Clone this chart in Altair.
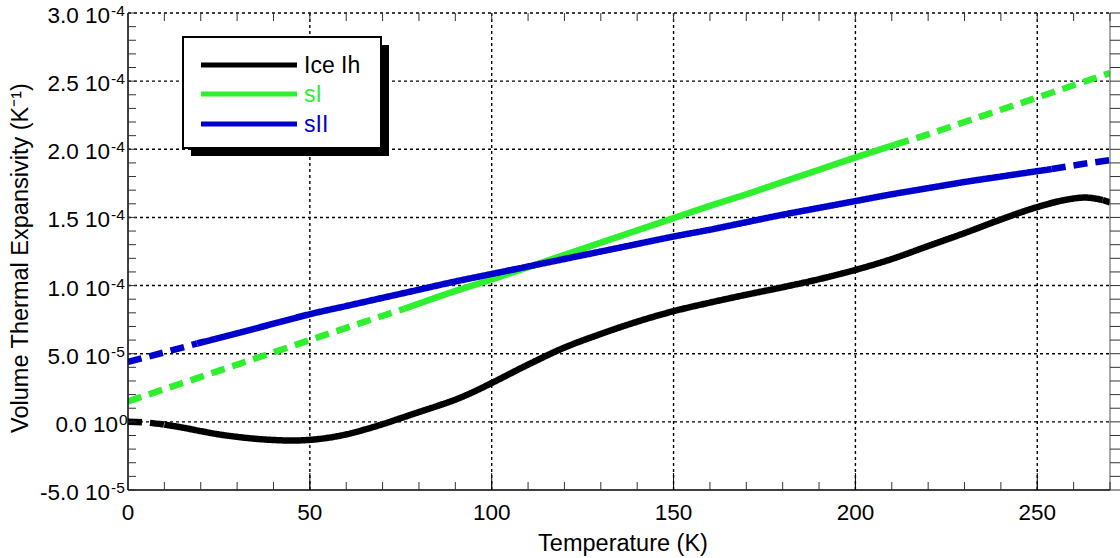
import altair as alt
import pandas as pd

# ---------------- data (expansivity in units of 1e-5 K^-1) ----------------
names = ["Ice Ih", "sI", "sII"]
colors = ["#000000", "#2EF02E", "#0000CC"]

ice_T = [0, 5, 10, 15, 20, 25, 30, 35, 40, 45, 50, 55, 60, 65, 70, 75, 80, 85, 90, 95,
         100, 110, 120, 130, 140, 150, 160, 170, 180, 190, 200, 210, 220, 230, 240, 250,
         258, 263, 268, 270]
ice_v = [0.0, -0.05, -0.2, -0.42, -0.68, -0.92, -1.1, -1.24, -1.33, -1.37, -1.32, -1.17,
         -0.92, -0.57, -0.17, 0.27, 0.72, 1.16, 1.63, 2.2, 2.85, 4.2, 5.45, 6.45, 7.35,
         8.12, 8.75, 9.33, 9.88, 10.47, 11.15, 11.95, 12.9, 13.85, 14.85, 15.76, 16.3,
         16.46, 16.28, 16.1]

sI_T = [0, 10, 20, 30, 40, 50, 60, 76, 90, 100, 110, 120, 130, 140, 150, 160, 170, 180,
        190, 200, 211, 220, 230, 240, 250, 260, 270]
sI_v = [1.5, 2.4, 3.3, 4.2, 5.1, 6.0, 6.9, 8.3, 9.6, 10.45, 11.35, 12.25, 13.15, 14.05,
        14.95, 15.85, 16.7, 17.6, 18.5, 19.4, 20.35, 21.1, 22.0, 22.9, 23.8, 24.7, 25.6]

sII_T = [0, 10, 19, 30, 40, 50, 60, 70, 80, 90, 100, 110, 120, 130, 140, 150, 160, 170,
         180, 190, 200, 210, 220, 230, 240, 254, 262, 270]
sII_v = [4.4, 5.1, 5.75, 6.5, 7.2, 7.9, 8.5, 9.1, 9.7, 10.3, 10.85, 11.4, 11.95, 12.5, 13.05,
         13.6, 14.1, 14.65, 15.2, 15.7, 16.2, 16.7, 17.15, 17.6, 18.0, 18.55, 18.9, 19.2]

# temperature ranges drawn solid (outside: dashed)
solid_ranges = {"Ice Ih": (10, 268), "sI": (76, 211), "sII": (19, 254)}

x_label_vals = [0, 50, 100, 150, 200, 250]
y_label_vals = [-5, 0, 5, 10, 15, 20, 25, 30]
y_label_main = ["-5.0 10", "0.0 10", "5.0 10", "1.0 10", "1.5 10", "2.0 10", "2.5 10", "3.0 10"]
y_label_sup = ["-5", "0", "-5", "-4", "-4", "-4", "-4", "-4"]

x_grid = [50, 100, 150, 200, 250]
y_grid = [0, 5, 10, 15, 20, 25, 30]
x_minor = list(range(0, 271, 10))
x_major = [50, 100, 150, 200, 250]
y_minor = list(range(-5, 31, 1))

W, H = 982, 477
FONT = "Arial"

# ---------------- build long table ----------------
rows = []
for name, Ts, Vs in [("Ice Ih", ice_T, ice_v), ("sI", sI_T, sI_v), ("sII", sII_T, sII_v)]:
    a, b = solid_ranges[name]
    for t, v in zip(Ts, Vs):
        if t <= a:
            rows.append(dict(series=name, T=t, v=v, seg=name + "0", style="dashed"))
        if a <= t <= b:
            rows.append(dict(series=name, T=t, v=v, seg=name + "1", style="solid"))
        if t >= b:
            rows.append(dict(series=name, T=t, v=v, seg=name + "2", style="dashed"))
df = pd.DataFrame(rows)

xs = alt.Scale(domain=[0, 270], nice=False, zero=False)
ys = alt.Scale(domain=[-5, 30], nice=False, zero=False)

# ---------------- grid ----------------
vgrid = alt.Chart(pd.DataFrame({"T": x_grid})).mark_rule(
    color="black", strokeWidth=1.4, strokeDash=[3, 3]
).encode(x=alt.X("T:Q", scale=xs, axis=None), y=alt.value(0), y2=alt.value(H))

hgrid = alt.Chart(pd.DataFrame({"v": y_grid})).mark_rule(
    color="black", strokeWidth=1.4, strokeDash=[3, 3]
).encode(y=alt.Y("v:Q", scale=ys, axis=None), x=alt.value(0), x2=alt.value(W))

# ---------------- frame ----------------
frame_df = pd.DataFrame({"k": [0]})
left_ax = alt.Chart(frame_df).mark_rule(color="black", strokeWidth=1.5).encode(
    x=alt.value(0), y=alt.value(0), y2=alt.value(H))
bottom_ax = alt.Chart(frame_df).mark_rule(color="black", strokeWidth=1.5).encode(
    x=alt.value(0), x2=alt.value(W), y=alt.value(H))
right_ax = alt.Chart(frame_df).mark_rule(color="#555555", strokeWidth=1).encode(
    x=alt.value(W), y=alt.value(0), y2=alt.value(H))

# ---------------- ticks ----------------
tick_color = "#333333"
bot_ticks = alt.Chart(pd.DataFrame({"T": x_minor})).mark_rule(color=tick_color, strokeWidth=1).encode(
    x=alt.X("T:Q", scale=xs, axis=None), y=alt.value(H - 8), y2=alt.value(H))
bot_major = alt.Chart(pd.DataFrame({"T": x_major})).mark_rule(color="black", strokeWidth=1).encode(
    x=alt.X("T:Q", scale=xs, axis=None), y=alt.value(H - 17), y2=alt.value(H))
top_ticks = alt.Chart(pd.DataFrame({"T": x_minor})).mark_rule(color=tick_color, strokeWidth=1).encode(
    x=alt.X("T:Q", scale=xs, axis=None), y=alt.value(0), y2=alt.value(8))
left_ticks = alt.Chart(pd.DataFrame({"v": y_minor})).mark_rule(color=tick_color, strokeWidth=1).encode(
    y=alt.Y("v:Q", scale=ys, axis=None), x=alt.value(0), x2=alt.value(8))
right_ticks = alt.Chart(pd.DataFrame({"v": y_minor})).mark_rule(color=tick_color, strokeWidth=1).encode(
    y=alt.Y("v:Q", scale=ys, axis=None), x=alt.value(W), x2=alt.value(W + 10))

# ---------------- data lines ----------------
lines = alt.Chart(df).mark_line(strokeWidth=6.5, strokeCap="butt", clip=True,
                                interpolate="monotone").encode(
    x=alt.X("T:Q", scale=xs, axis=None),
    y=alt.Y("v:Q", scale=ys, axis=None),
    color=alt.Color("series:N", scale=alt.Scale(domain=names, range=colors), legend=None),
    strokeDash=alt.StrokeDash("style:N", scale=alt.Scale(domain=["solid", "dashed"],
                                                        range=[[1, 0], [14, 8]]), legend=None),
    detail="seg:N",
    order="T:Q",
)

# ---------------- legend ----------------
shadow = alt.Chart(frame_df).mark_rect(color="black").encode(
    x=alt.value(63), x2=alt.value(261), y=alt.value(32), y2=alt.value(143))
box = alt.Chart(frame_df).mark_rect(fill="white", stroke="black", strokeWidth=2).encode(
    x=alt.value(55), x2=alt.value(253), y=alt.value(24), y2=alt.value(135))
legend_layers = [shadow, box]
row_y = [52, 81, 111]
for name, col, ry in zip(names, colors, row_y):
    legend_layers.append(
        alt.Chart(frame_df).mark_rule(color=col, strokeWidth=5).encode(
            x=alt.value(73), x2=alt.value(169), y=alt.value(ry)))
    legend_layers.append(
        alt.Chart(pd.DataFrame({"t": [name]})).mark_text(
            color=col, font=FONT, fontSize=23, align="left", baseline="middle").encode(
            x=alt.value(176), y=alt.value(ry + 1), text="t:N"))

# ---------------- labels ----------------
ylab_df = pd.DataFrame({
    "v": y_label_vals, "main": y_label_main, "sup": y_label_sup,
    "xm": [-2 - 8 * len(s) for s in y_label_sup],
    "xs": [-1 - 8 * len(s) for s in y_label_sup],
})
ymain = alt.Chart(ylab_df).mark_text(font=FONT, fontSize=22.5, align="right",
                                     baseline="alphabetic", dy=10, color="black").encode(
    y=alt.Y("v:Q", scale=ys, axis=None), x=alt.X("xm:Q", scale=None), text="main:N")
ysup = alt.Chart(ylab_df).mark_text(font=FONT, fontSize=15.5, align="left",
                                    baseline="alphabetic", dy=3, color="black").encode(
    y=alt.Y("v:Q", scale=ys, axis=None), x=alt.X("xs:Q", scale=None), text="sup:N")

xlab = alt.Chart(pd.DataFrame({"T": x_label_vals, "t": [str(v) for v in x_label_vals]})).mark_text(
    font=FONT, fontSize=22.5, align="center", baseline="alphabetic", color="black").encode(
    x=alt.X("T:Q", scale=xs, axis=None), y=alt.value(H + 30), text="t:N")

xtitle = alt.Chart(pd.DataFrame({"t": ["Temperature (K)"]})).mark_text(
    font=FONT, fontSize=23.5, align="center", baseline="alphabetic", color="black").encode(
    x=alt.value(495), y=alt.value(H + 61), text="t:N")

ytitle = alt.Chart(pd.DataFrame({"t": ["Volume Thermal Expansivity (K\u207b\u00b9)"]})).mark_text(
    font=FONT, fontSize=23.5, align="center", baseline="middle", angle=270, color="black").encode(
    x=alt.value(-107), y=alt.value(245), text="t:N")

chart = alt.layer(
    vgrid, hgrid, lines, *legend_layers,
    left_ax, bottom_ax, right_ax,
    bot_ticks, bot_major, top_ticks, left_ticks, right_ticks,
    ymain, ysup, xlab, xtitle, ytitle,
).properties(
    width=W, height=H,
    padding={"left": 128, "top": 13, "right": 10, "bottom": 68},
    autosize=alt.AutoSizeParams(type="none"),
    background="white",
).configure_view(stroke=None)

chart.save("out.html", embed_options={"renderer": "svg", "actions": False})
